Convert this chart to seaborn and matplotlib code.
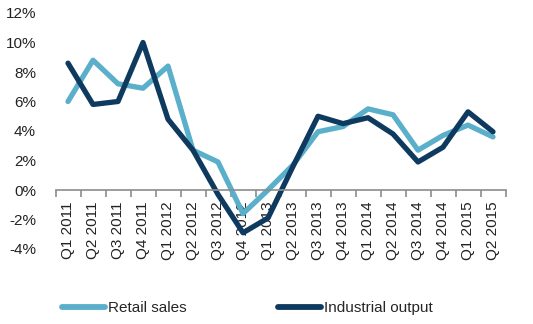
import matplotlib
matplotlib.use("Agg")
import matplotlib.pyplot as plt
import seaborn as sns
import pandas as pd
from matplotlib.ticker import FuncFormatter, FixedLocator
from matplotlib.lines import Line2D

quarters = ["Q1 2011", "Q2 2011", "Q3 2011", "Q4 2011",
            "Q1 2012", "Q2 2012", "Q3 2012", "Q4 2012",
            "Q1 2013", "Q2 2013", "Q3 2013", "Q4 2013",
            "Q1 2014", "Q2 2014", "Q3 2014", "Q4 2014",
            "Q1 2015", "Q2 2015"]
retail_sales = [6.0, 8.8, 7.2, 6.9, 8.4, 2.7, 1.9, -1.6,
                0.0, 1.7, 3.95, 4.3, 5.5, 5.1, 2.7, 3.7, 4.4, 3.6]
industrial_output = [8.6, 5.8, 6.0, 10.0, 4.8, 2.7, -0.3, -2.9,
                     -1.9, 1.6, 5.0, 4.5, 4.9, 3.8, 1.9, 2.9, 5.3, 3.95]
series_names = ["Retail sales", "Industrial output"]
colors = ["#5AAFCB", "#0F3A5F"]

sns.set_theme(style="white")
plt.rcParams["font.family"] = ["Liberation Sans", "DejaVu Sans"]

df = pd.DataFrame({
    "x": list(range(len(quarters))) * 2,
    "value": retail_sales + industrial_output,
    "series": [series_names[0]] * len(quarters) + [series_names[1]] * len(quarters),
})

fig = plt.figure(figsize=(5.33, 3.24), dpi=100)
ax = fig.add_axes([55.5 / 533, 1 - 249 / 324, 450 / 533, 236 / 324])

sns.lineplot(data=df, x="x", y="value", hue="series", palette=colors,
             hue_order=series_names, linewidth=3.8, ax=ax, legend=False,
             sort=False)

ax.set_xlim(-0.5, len(quarters) - 0.5)
ax.set_ylim(-4, 12)
ax.set_xlabel("")
ax.set_ylabel("")

for s in ["top", "right", "left"]:
    ax.spines[s].set_visible(False)
ax.spines["bottom"].set_position(("data", 0))
ax.spines["bottom"].set_color("#8C8C8C")
ax.spines["bottom"].set_linewidth(1.2)

ax.xaxis.set_major_locator(FixedLocator([i - 0.5 for i in range(len(quarters) + 1)]))
ax.xaxis.set_major_formatter(FuncFormatter(lambda v, p: ""))
ax.set_xticks(list(range(len(quarters))), minor=True)
ax.set_xticklabels(quarters, minor=True, rotation=90, fontsize=11, color="#222222")
ax.tick_params(axis="x", which="major", direction="out", length=5, width=1.2,
               color="#8C8C8C", bottom=True)
ax.tick_params(axis="x", which="minor", length=0, pad=8, bottom=True)

ax.set_yticks(range(-4, 13, 2))
ax.yaxis.set_major_formatter(FuncFormatter(lambda v, p: f"{v:.0f}%"))
ax.tick_params(axis="y", length=0, pad=14, labelsize=11, labelcolor="#222222")

handles = [Line2D([0], [0], color=c, linewidth=4.2, solid_capstyle="round") for c in colors]
fig.legend(handles, series_names, loc="center left", bbox_to_anchor=(62 / 533, 1 - 308 / 324),
           ncol=2, frameon=False, fontsize=11, handlelength=2.8, handletextpad=0.2,
           columnspacing=6.0, borderaxespad=0, borderpad=0)

fig.savefig("out.png", dpi=100)
